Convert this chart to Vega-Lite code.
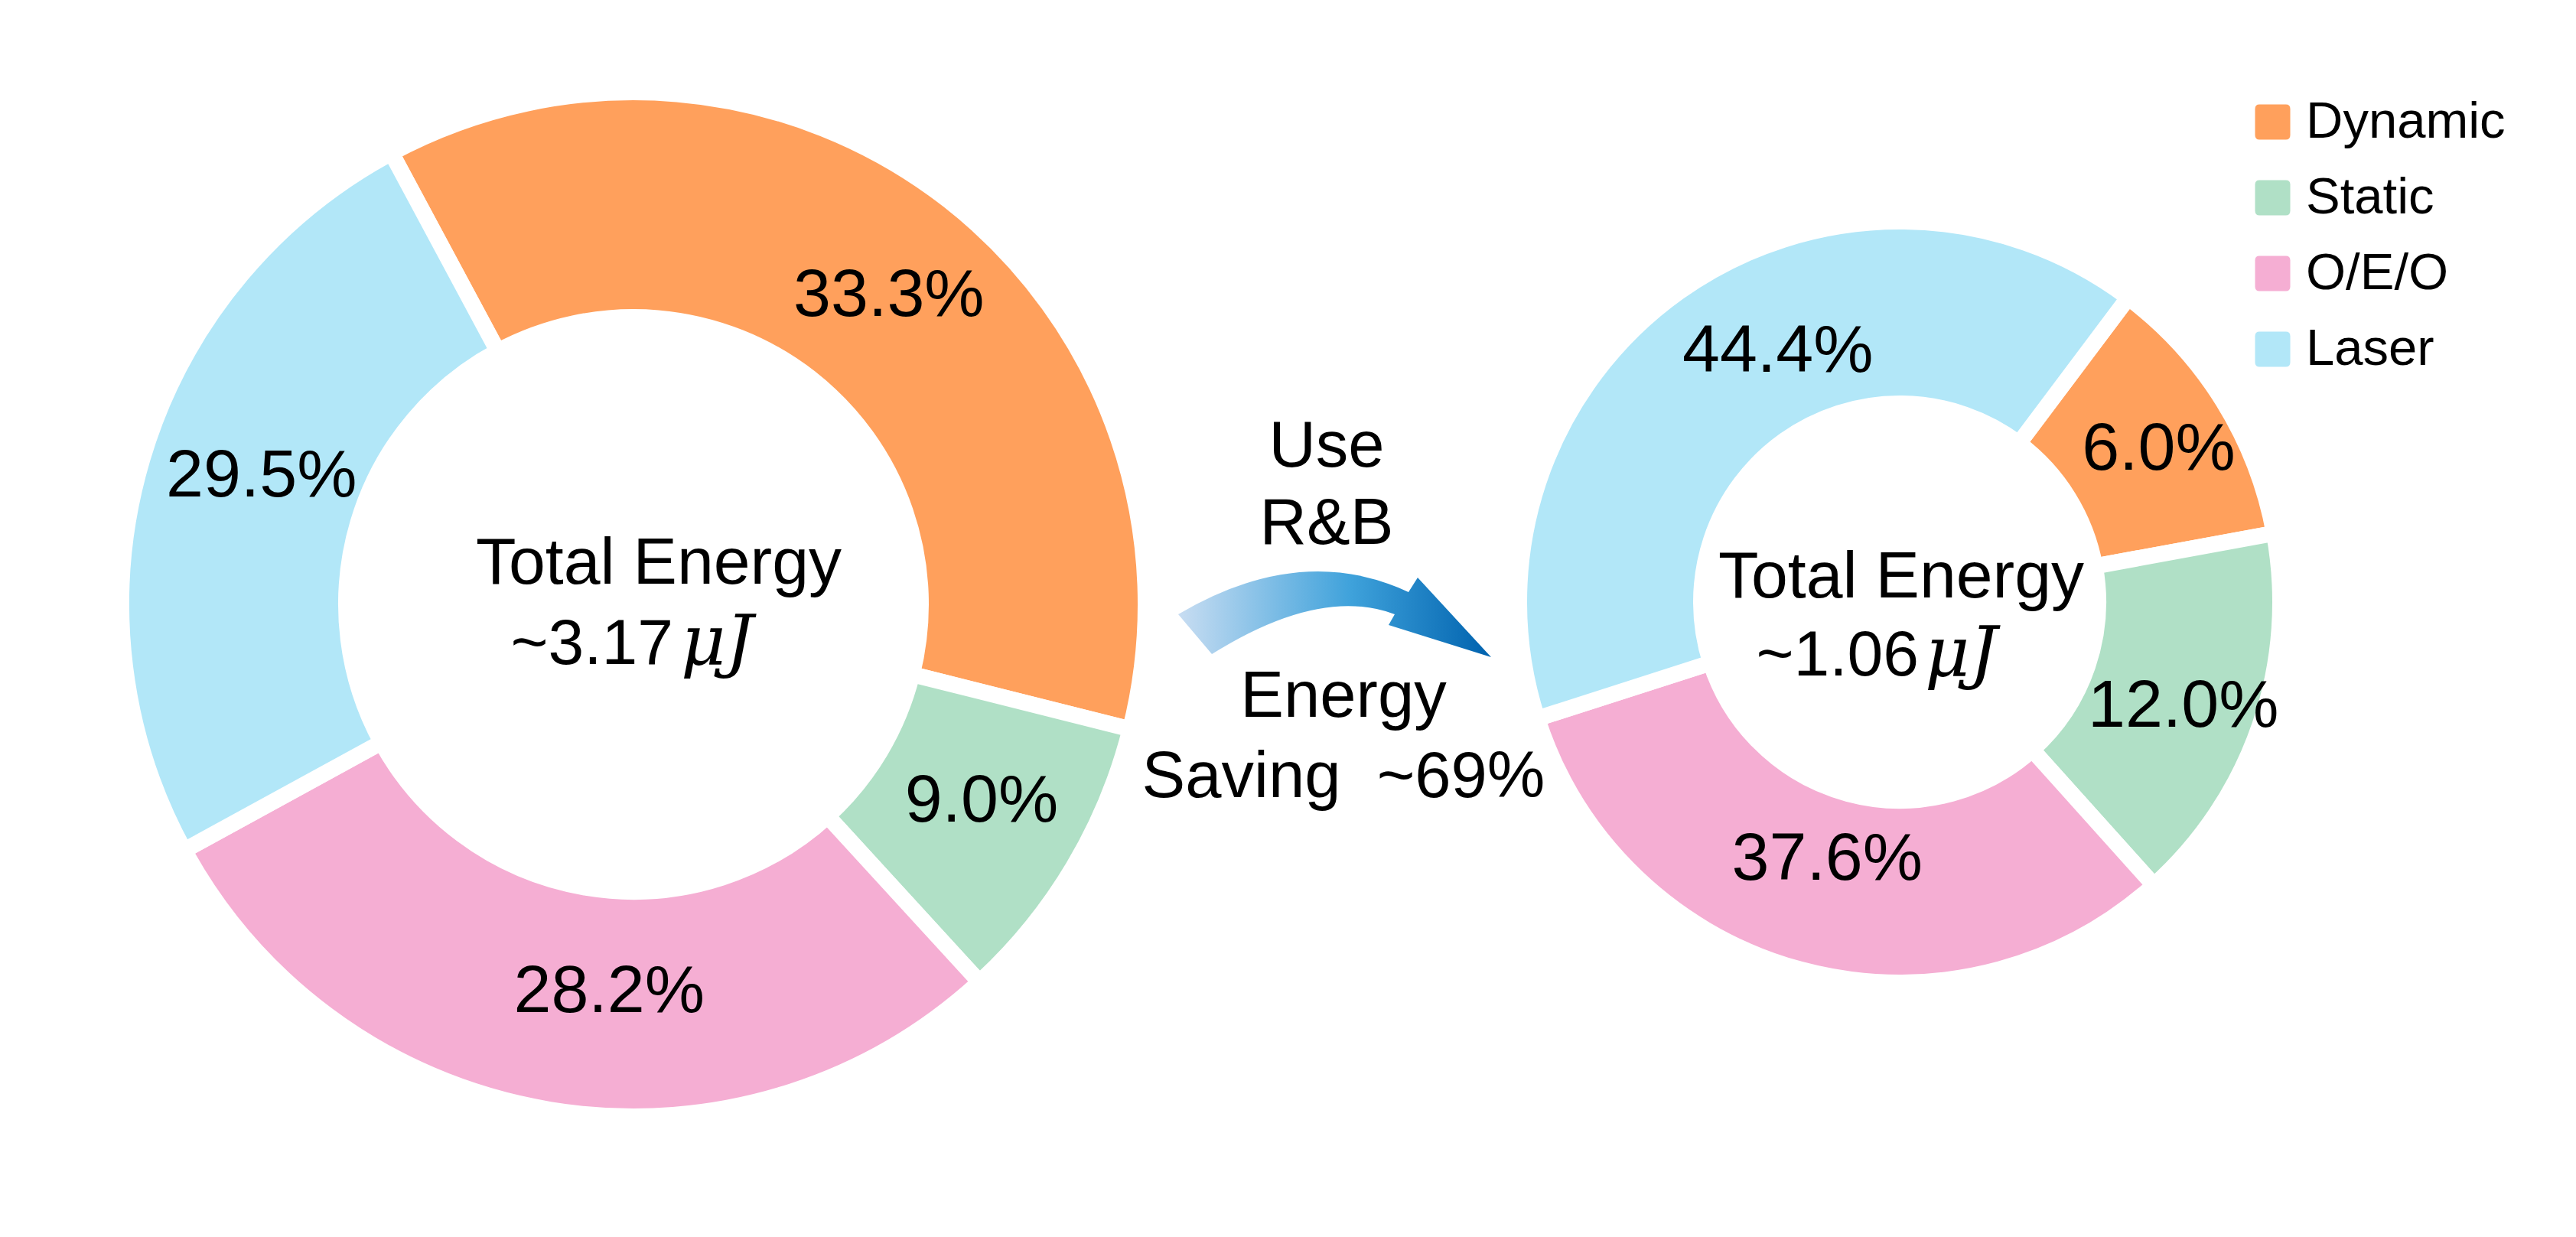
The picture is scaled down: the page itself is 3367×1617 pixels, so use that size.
{
  "$schema": "https://vega.github.io/schema/vega-lite/v6.json",
  "background": "white",
  "padding": 0,
  "spacing": 0,
  "bounds": "flush",
  "config": {"view": {"stroke": null}, "font": "Liberation Sans", "text": {"font": "Liberation Sans"}},
  "hconcat": [
    {
      "width": 1656,
      "height": 1580,
      "data": {"values": [
        {"component": "Dynamic", "share": 36.75, "label": "33.3%", "k": 1},
        {"component": "Static", "share": 9.28, "label": "9.0%", "k": 2},
        {"component": "O/E/O", "share": 28.83, "label": "28.2%", "k": 3},
        {"component": "Laser", "share": 25.14, "label": "29.5%", "k": 4}
      ]},
      "layer": [
        {
          "encoding": {
            "theta": {"field": "share", "type": "quantitative", "stack": true, "scale": {"domain": [0, 100], "range": [-0.49218, 5.79101]}},
            "order": {"field": "k", "type": "quantitative"}
          },
          "layer": [
            {
              "mark": {"type": "arc", "outerRadius": 669.5, "innerRadius": 375.5, "stroke": "white", "strokeWidth": 21, "strokeJoin": "miter"},
              "encoding": {
                "color": {"field": "component", "type": "nominal",
                  "scale": {"domain": ["Dynamic", "Static", "O/E/O", "Laser"], "range": ["#FFA05C", "#B0E0C6", "#F5AED3", "#B2E7F8"]},
                  "legend": {"title": null, "orient": "none", "legendX": 2937, "legendY": 126, "padding": 0,
                    "symbolType": "M-0.75,-1L0.75,-1Q1,-1 1,-0.75L1,0.75Q1,1 0.75,1L-0.75,1Q-1,1 -1,0.75L-1,-0.75Q-1,-1 -0.75,-1Z",
                    "symbolSize": 2116, "symbolStrokeWidth": 0, "symbolOpacity": 1,
                    "labelFontSize": 67, "labelFont": "Liberation Sans", "labelColor": "black", "labelOffset": 10, "rowPadding": 31, "labelLimit": 0}}
              }
            },
            {
              "mark": {"type": "text", "radius": 525, "fontSize": 88, "fill": "black", "align": "center", "baseline": "middle", "dx": 11, "dy": 11},
              "encoding": {"text": {"condition": {"test": "datum.component === 'Dynamic'", "field": "label"}, "value": ""}}
            },
            {
              "mark": {"type": "text", "radius": 525, "fontSize": 88, "fill": "black", "align": "center", "baseline": "middle", "dx": 4, "dy": -11},
              "encoding": {"text": {"condition": {"test": "datum.component === 'Static'", "field": "label"}, "value": ""}}
            },
            {
              "mark": {"type": "text", "radius": 525, "fontSize": 88, "fill": "black", "align": "center", "baseline": "middle", "dx": 54, "dy": -11},
              "encoding": {"text": {"condition": {"test": "datum.component === 'O/E/O'", "field": "label"}, "value": ""}}
            },
            {
              "mark": {"type": "text", "radius": 525, "fontSize": 88, "fill": "black", "align": "center", "baseline": "middle", "dx": 17, "dy": -17},
              "encoding": {"text": {"condition": {"test": "datum.component === 'Laser'", "field": "label"}, "value": ""}}
            }
          ]
        },
        {
          "data": {"values": [{"title": "Total Energy", "amount": "~3.17", "unit": "μJ"}]},
          "layer": [
            {"mark": {"type": "text", "fontSize": 86, "align": "center", "baseline": "alphabetic", "dx": 33, "dy": -27, "fill": "black"},
             "encoding": {"text": {"field": "title", "type": "nominal"}}},
            {"mark": {"type": "text", "fontSize": 84, "align": "right", "baseline": "alphabetic", "dx": 52, "dy": 78, "fill": "black"},
             "encoding": {"text": {"field": "amount", "type": "nominal"}}},
            {"mark": {"type": "text", "fontSize": 90, "font": "DejaVu Serif", "fontStyle": "italic", "align": "left", "baseline": "alphabetic", "dx": 62, "dy": 78, "fill": "black"},
             "encoding": {"text": {"field": "unit", "type": "nominal"}}}
          ]
        }
      ]
    },
    {
      "width": 200,
      "height": 1580,
      "data": {"values": [
        {"part": "method", "note": "Use\nR&B"},
        {"part": "saving", "note": "Energy\nSaving\u00a0 ~69%"}
      ]},
      "layer": [
        {
          "transform": [{"filter": "datum.part === 'method'"}],
          "mark": {"type": "point",
            "shape": "M-2.16,0.13 Q-0.55,-0.82 0.85,-0.16 L0.97,-0.35 L1.93,0.69 L0.59,0.27 L0.67,0.13 Q-0.3,-0.24 -1.72,0.65 Z",
            "size": 40000, "filled": true, "strokeWidth": 0, "opacity": 1,
            "fill": {"gradient": "linear", "x1": 0, "y1": 0, "x2": 1, "y2": 0,
              "stops": [{"offset": 0, "color": "#C8DDF2"}, {"offset": 0.55, "color": "#3FA2DB"}, {"offset": 1, "color": "#0062AE"}]}},
          "encoding": {}
        },
        {
          "transform": [{"filter": "datum.part === 'method'"}],
          "mark": {"type": "text", "fontSize": 85, "lineBreak": "\n", "lineHeight": 101, "align": "center", "baseline": "alphabetic", "dx": -22, "dy": -180, "fill": "black"},
          "encoding": {"text": {"field": "note", "type": "nominal"}}
        },
        {
          "transform": [{"filter": "datum.part === 'saving'"}],
          "mark": {"type": "text", "fontSize": 85, "lineBreak": "\n", "lineHeight": 105, "align": "center", "baseline": "alphabetic", "dx": 0, "dy": 147, "fill": "black"},
          "encoding": {"text": {"field": "note", "type": "nominal"}}
        }
      ]
    },
    {
      "width": 1254,
      "height": 1574,
      "data": {"values": [
        {"component": "Dynamic", "share": 11.86, "label": "6.0%", "k": 1},
        {"component": "Static", "share": 16.25, "label": "12.0%", "k": 2},
        {"component": "O/E/O", "share": 31.69, "label": "37.6%", "k": 3},
        {"component": "Laser", "share": 40.20, "label": "44.4%", "k": 4}
      ]},
      "layer": [
        {
          "encoding": {
            "theta": {"field": "share", "type": "quantitative", "stack": true, "scale": {"domain": [0, 100], "range": [0.64403, 6.92722]}},
            "order": {"field": "k", "type": "quantitative"}
          },
          "layer": [
            {
              "mark": {"type": "arc", "outerRadius": 497.5, "innerRadius": 259.5, "stroke": "white", "strokeWidth": 21, "strokeJoin": "miter"},
              "encoding": {
                "color": {"field": "component", "type": "nominal",
                  "scale": {"domain": ["Dynamic", "Static", "O/E/O", "Laser"], "range": ["#FFA05C", "#B0E0C6", "#F5AED3", "#B2E7F8"]},
                  "legend": {"title": null, "orient": "none", "legendX": 2937, "legendY": 126, "padding": 0,
                    "symbolType": "M-0.75,-1L0.75,-1Q1,-1 1,-0.75L1,0.75Q1,1 0.75,1L-0.75,1Q-1,1 -1,0.75L-1,-0.75Q-1,-1 -0.75,-1Z",
                    "symbolSize": 2116, "symbolStrokeWidth": 0, "symbolOpacity": 1,
                    "labelFontSize": 67, "labelFont": "Liberation Sans", "labelColor": "black", "labelOffset": 10, "rowPadding": 31, "labelLimit": 0}}
              }
            },
            {
              "mark": {"type": "text", "radius": 378, "fontSize": 88, "fill": "black", "align": "center", "baseline": "middle", "dx": 17, "dy": 0},
              "encoding": {"text": {"condition": {"test": "datum.component === 'Dynamic'", "field": "label"}, "value": ""}}
            },
            {
              "mark": {"type": "text", "radius": 378, "fontSize": 88, "fill": "black", "align": "center", "baseline": "middle", "dx": 13, "dy": 15},
              "encoding": {"text": {"condition": {"test": "datum.component === 'Static'", "field": "label"}, "value": ""}}
            },
            {
              "mark": {"type": "text", "radius": 378, "fontSize": 88, "fill": "black", "align": "center", "baseline": "middle", "dx": 4, "dy": -28},
              "encoding": {"text": {"condition": {"test": "datum.component === 'O/E/O'", "field": "label"}, "value": ""}}
            },
            {
              "mark": {"type": "text", "radius": 378, "fontSize": 88, "fill": "black", "align": "center", "baseline": "middle", "dx": 60, "dy": -19},
              "encoding": {"text": {"condition": {"test": "datum.component === 'Laser'", "field": "label"}, "value": ""}}
            }
          ]
        },
        {
          "data": {"values": [{"title": "Total Energy", "amount": "~1.06", "unit": "μJ"}]},
          "layer": [
            {"mark": {"type": "text", "fontSize": 86, "align": "center", "baseline": "alphabetic", "dx": 2, "dy": -6, "fill": "black"},
             "encoding": {"text": {"field": "title", "type": "nominal"}}},
            {"mark": {"type": "text", "fontSize": 84, "align": "right", "baseline": "alphabetic", "dx": 25, "dy": 96, "fill": "black"},
             "encoding": {"text": {"field": "amount", "type": "nominal"}}},
            {"mark": {"type": "text", "fontSize": 90, "font": "DejaVu Serif", "fontStyle": "italic", "align": "left", "baseline": "alphabetic", "dx": 33, "dy": 96, "fill": "black"},
             "encoding": {"text": {"field": "unit", "type": "nominal"}}}
          ]
        }
      ]
    }
  ]
}
